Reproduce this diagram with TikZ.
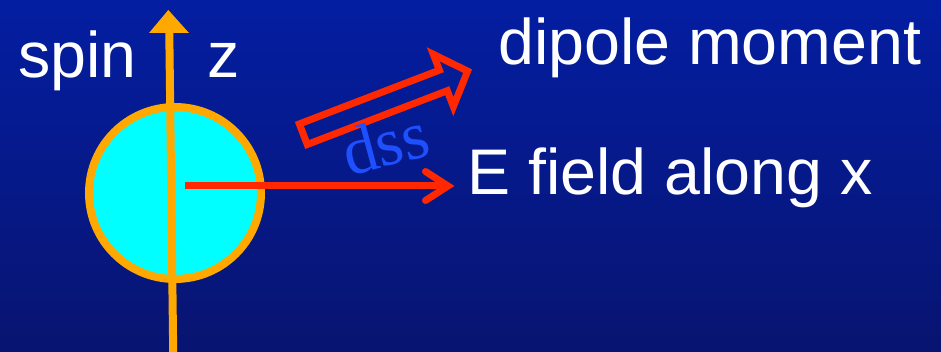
\documentclass[tikz,border=0pt]{standalone}
\usepackage{fontspec}
\setmainfont{Liberation Sans}
\newfontfamily\serifface{Liberation Serif}
\definecolor{bgtop}{RGB}{4,30,162}
\definecolor{bgbot}{RGB}{8,20,112}
\definecolor{spinorange}{RGB}{255,168,0}
\definecolor{ballcyan}{RGB}{0,255,255}
\definecolor{fieldred}{RGB}{255,40,0}
\definecolor{dssblue}{RGB}{30,80,255}
\begin{document}
\begin{tikzpicture}[x=1pt,y=-1pt,
  whitetext/.style={text=white,inner sep=0pt,font=\fontsize{64.5}{70}\selectfont},
  redline/.style={fieldred,line width=7pt}]
\useasboundingbox (0,0) rectangle (941,352);
% background
\shade[top color=bgtop,bottom color=bgbot] (0,0) rectangle (941,352);

% the spinning particle
\node[circle,draw=spinorange,fill=ballcyan,line width=8pt,
      minimum size=172pt,inner sep=0pt] (ball) at (175,193) {};

% spin axis with its arrowhead
\coordinate (axbot) at (173.3,360);
\coordinate (axtop) at (169.2,25);
\coordinate (axtip) at (168.3,10);
\coordinate (axl) at (149,33);
\coordinate (axr) at (189,33);
\draw[spinorange,line width=8pt] (axbot) -- (axtop);
\fill[spinorange] (axtip) -- (axl) -- (axr) -- cycle;

% electric field arrow
\coordinate (fstart) at (185,186);
\coordinate (ftip) at (448,186);
\coordinate (fbarbup) at (425.5,171.5);
\coordinate (fbarbdn) at (425.5,200.5);
\draw[redline] (fstart) -- (ftip);
\draw[redline,line cap=round,line join=miter] (fbarbup) -- (ftip) -- (fbarbdn);

% hollow dipole moment arrow
\begin{scope}[shift={(303.3,134.2)},rotate=21]
  \draw[redline,line join=miter]
    (0,-11) -- (150,-11) -- (150,-28) -- (176,0) -- (150,28) -- (150,11) -- (0,11) -- cycle;
\end{scope}

% labels
\node[whitetext,anchor=base west] (spin) at (18,78) {spin};
\node[whitetext,anchor=base west] (zlab) at (207,78) {z};
\node[whitetext,anchor=base west] (dipole) at (498,65) {dipole moment};
\node[whitetext,anchor=base west] (efield) at (467,195) {E field along x};
\node[text=dssblue,font=\serifface\fontsize{68}{72}\selectfont,rotate=15,inner sep=0pt]
  (dss) at (385,143) {dss};
\end{tikzpicture}
\end{document}
